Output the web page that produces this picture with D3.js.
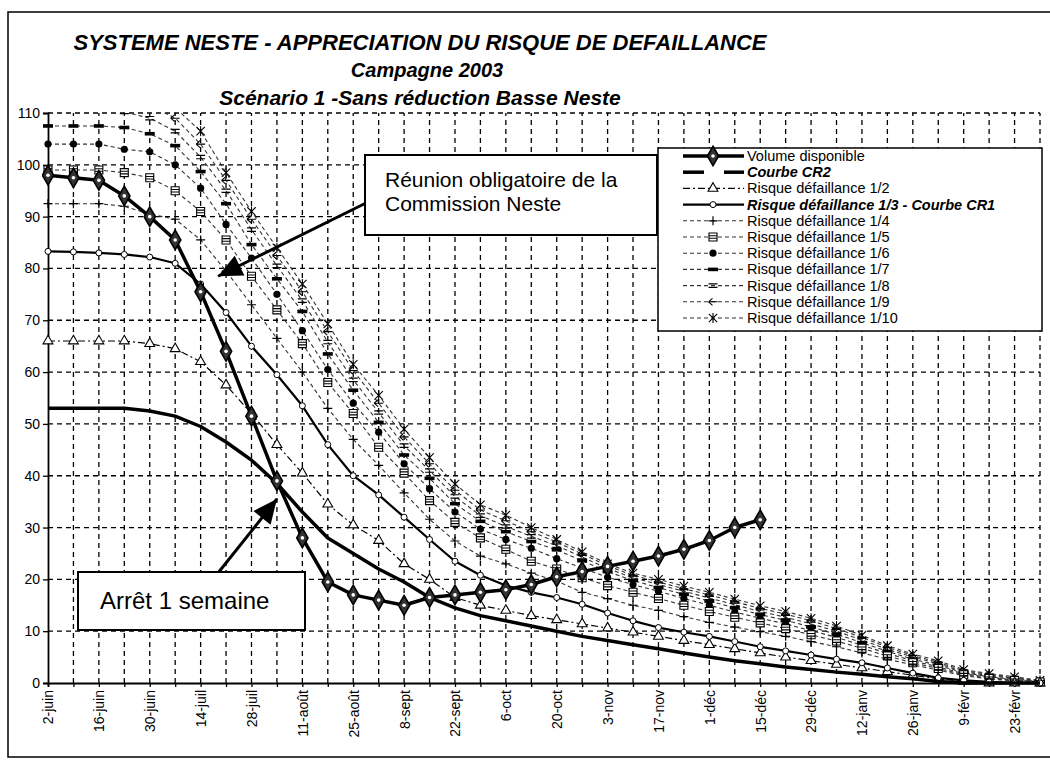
<!DOCTYPE html>
<html>
<head>
<meta charset="utf-8">
<script src="https://cdnjs.cloudflare.com/ajax/libs/d3/7.8.5/d3.min.js"></script>
<style>
  body { margin: 0; background: #fff; }
  svg { display: block; font-family: Arial, "Liberation Sans", sans-serif; }
</style>
</head>
<body>
<svg id="chart" width="1050" height="770"></svg>
<script>
// weekly categories (Excel line chart, one label every two weeks)
const weeks = ["2-juin","9-juin","16-juin","23-juin","30-juin","7-juil","14-juil","21-juil","28-juil","4-août",
  "11-août","18-août","25-août","1-sept","8-sept","15-sept","22-sept","29-sept","6-oct","13-oct",
  "20-oct","27-oct","3-nov","10-nov","17-nov","24-nov","1-déc","8-déc","15-déc","22-déc",
  "29-déc","5-janv","12-janv","19-janv","26-janv","2-févr","9-févr","16-févr","23-févr","1-mars"];
const yTicks = [0,10,20,30,40,50,60,70,80,90,100,110];

// series values
const volume = [98,97.5,97,94,90,85.5,75.5,64,51.5,39,28,19.5,17,16,15,16.5,17,17.5,18,19,
  20.5,21.5,22.5,23.5,24.5,25.8,27.5,30,31.5];
const courbeCR2 = [53,53,53,53,52.5,51.5,49.5,46.5,43,38.5,33,28,25,22,19.5,16.5,14.5,13,12,11,
  10,9,8.2,7.4,6.6,5.8,5,4.3,3.7,3.1,2.6,2.1,1.7,1.2,0.8,0.3,0,0,0,0];
const risque2 = [66,66,66,66,65.5,64.5,62,57.5,52,46,40.5,34.5,30.5,27.5,23,20,16.5,15,14,13,
  12.2,11.4,10.6,9.8,9,8.2,7.4,6.6,5.8,5,4.3,3.6,2.9,2.2,1.5,0.8,0.3,0,0,0];
const risque3 = [83.3,83.2,83,82.7,82.2,81,77,71.5,65,59.5,53.5,46,40,36.3,32,27.7,23.5,20.8,18.8,17.5,
  16.5,15.2,13.5,12,10.7,9.8,9,8,7,6.2,5.4,4.6,3.9,2.9,1.9,1,0.5,0.2,0,0];
const risque4 = [92.5,92.5,92.5,92,90.5,89.5,85.5,79.5,73,66.5,60,53,47,42,36.7,31.6,27.4,24.5,23,21.2,
  19.7,17.5,16.3,15,14,12.8,11.7,10.8,9.9,9,8,7,5.8,4.6,3.5,2.5,1.4,0.8,0.4,0.1];
const risque5 = [99,99,99,98.5,97.5,95,91,85.5,78.5,72,65.5,58,52,45.5,40.5,35.2,31,28,25.8,23.5,
  22,20.3,18.8,17.5,16.3,15,13.8,12.7,11.6,10.5,9.3,8.1,6.7,5.2,3.9,2.8,1.6,0.9,0.5,0.2];
const risque6 = [104,104,104,103,102.5,100,95.5,88.5,82,75,68,60.5,54,48.4,42.3,37.5,33,29.7,27.7,26,
  24,22.2,20.4,19,17.7,16.3,15,13.7,12.5,11.4,10.1,8.8,7.3,5.7,4.3,3.1,1.8,1.1,0.6,0.2];
const risque7 = [107.5,107.5,107.5,107.2,106,103.7,98.7,92.5,84.6,78,71.7,63.5,56.5,50.3,44,39.5,34.6,31.2,29.2,27.3,
  25.7,23.6,21.5,19.8,18.4,17.1,15.8,14.5,13.2,12.1,10.8,9.4,7.8,6.1,4.6,3.4,2,1.2,0.7,0.3];
const risque8 = [110.5,110.5,110.5,110.2,109,106.5,101.5,95,87.5,80.5,73.8,65.8,58.5,52.2,45.8,41,36,32.3,30.2,28.3,
  26.5,24.3,22.1,20.3,19,17.7,16.4,15.1,13.8,12.7,11.4,10,8.3,6.5,5,3.7,2.2,1.4,0.9,0.3];
const risque9 = [113,113,113,112.8,111.5,109,104,97,89.5,82.5,75.5,67.8,60.3,54,47.5,42.3,37.2,33.4,31.3,29.2,
  27.2,24.9,22.6,20.8,19.5,18.2,17,15.7,14.4,13.3,12,10.5,8.8,6.9,5.3,4,2.4,1.6,1,0.4];
const risque10 = [116,116,115.5,115,113.5,111,106.5,98.5,91,84,77,69.3,61.5,55.5,49,43.5,38.4,34.4,32.4,30,
  27.7,25.3,23,21.2,20,18.7,17.5,16.2,14.9,13.8,12.5,11,9.2,7.2,5.6,4.3,2.6,1.8,1.2,0.5];

const seriesNames = ["Volume disponible","Courbe CR2","Risque défaillance 1/2","Risque défaillance 1/3 - Courbe CR1",
  "Risque défaillance 1/4","Risque défaillance 1/5","Risque défaillance 1/6","Risque défaillance 1/7",
  "Risque défaillance 1/8","Risque défaillance 1/9","Risque défaillance 1/10"];

const series = [
  { name: seriesNames[0], values: volume, width: 3.5, dash: null, marker: "diamond" },
  { name: seriesNames[1], values: courbeCR2, width: 3.5, dash: null, marker: null, bold: true },
  { name: seriesNames[2], values: risque2, width: 1.2, dash: "7,3,2,3", marker: "triangle" },
  { name: seriesNames[3], values: risque3, width: 2.2, dash: null, marker: "circle", bold: true },
  { name: seriesNames[4], values: risque4, width: 1.1, dash: "4,3", marker: "plus" },
  { name: seriesNames[5], values: risque5, width: 1.1, dash: "4,3", marker: "hatch" },
  { name: seriesNames[6], values: risque6, width: 1.1, dash: "4,3", marker: "dot" },
  { name: seriesNames[7], values: risque7, width: 1.1, dash: "4,3", marker: "bar" },
  { name: seriesNames[8], values: risque8, width: 1.1, dash: "4,3", marker: "double" },
  { name: seriesNames[9], values: risque9, width: 1.1, dash: "4,3", marker: "arrow" },
  { name: seriesNames[10], values: risque10, width: 1.1, dash: "4,3", marker: "star" }
];

const svg = d3.select("#chart");
const x = d3.scalePoint().domain(weeks).range([48, 1040]);
const y = d3.scaleLinear().domain([0, 110]).range([683, 113]);

// outer frame
svg.append("rect").attr("x", 8).attr("y", 12).attr("width", 1050).attr("height", 745)
  .attr("fill", "none").attr("stroke", "#000").attr("stroke-width", 1.5);

// titles
const titles = [
  { t: "SYSTEME NESTE - APPRECIATION DU RISQUE DE DEFAILLANCE", x: 420, y: 50, size: 22 },
  { t: "Campagne 2003", x: 427, y: 77, size: 20 },
  { t: "Scénario 1 -Sans réduction Basse Neste", x: 420, y: 105, size: 21 }
];
svg.selectAll(".title").data(titles).enter().append("text")
  .attr("x", d => d.x).attr("y", d => d.y)
  .attr("text-anchor", "middle").attr("font-size", d => d.size)
  .attr("font-weight", "bold").attr("font-style", "italic")
  .text(d => d.t);

// grid
const grid = svg.append("g").attr("stroke", "#000").attr("stroke-width", 1.3).attr("stroke-dasharray", "5,4");
grid.selectAll(".hg").data(yTicks.filter(v => v > 0)).enter().append("line")
  .attr("x1", x.range()[0]).attr("x2", x.range()[1])
  .attr("y1", d => y(d)).attr("y2", d => y(d));
grid.selectAll(".vg").data(weeks.slice(1)).enter().append("line")
  .attr("x1", d => x(d)).attr("x2", d => x(d))
  .attr("y1", y(0)).attr("y2", y(110));

// axes
const yAxis = svg.append("g").attr("transform", `translate(${x.range()[0]},0)`)
  .call(d3.axisLeft(y).tickValues(yTicks).tickSize(5).tickPadding(3));
const xAxis = svg.append("g").attr("transform", `translate(0,${y(0)})`)
  .call(d3.axisBottom(x).tickSize(4).tickFormat((d, i) => i % 2 === 0 ? d : ""));
[yAxis, xAxis].forEach(a => {
  a.select(".domain").attr("stroke", "#000").attr("stroke-width", 1.8);
  a.selectAll(".tick line").attr("stroke", "#000").attr("stroke-width", 1.3);
  a.selectAll("text").attr("font-size", 14).attr("fill", "#000")
    .attr("font-family", "Arial, 'Liberation Sans', sans-serif");
});
xAxis.selectAll("text")
  .attr("transform", "rotate(-90)")
  .attr("text-anchor", "end")
  .attr("x", -7).attr("y", 0).attr("dy", "0.35em");

// clip to plot area (values above 110 are cut like in Excel)
svg.append("clipPath").attr("id", "plotClip").append("rect")
  .attr("x", x.range()[0] - 6).attr("y", y(110)).attr("width", x.range()[1] - x.range()[0] + 14)
  .attr("height", y(0) - y(110) + 6);

function drawMarker(g, type, cx, cy) {
  const m = g.append("g").attr("transform", `translate(${cx},${cy})`);
  switch (type) {
    case "diamond":
      m.append("path").attr("d", d3.symbol(d3.symbolDiamond, 110)())
        .attr("fill", "#333").attr("stroke", "#000").attr("stroke-width", 1.6);
      m.append("circle").attr("r", 1.8).attr("fill", "#fff");
      break;
    case "triangle":
      m.append("path").attr("d", d3.symbol(d3.symbolTriangle, 42)())
        .attr("fill", "#fff").attr("stroke", "#000").attr("stroke-width", 1.1);
      break;
    case "circle":
      m.append("circle").attr("r", 3).attr("fill", "#fff").attr("stroke", "#000").attr("stroke-width", 1);
      break;
    case "plus":
      m.append("path").attr("d", "M-4.5,0H4.5M0,-4.5V4.5").attr("stroke", "#000").attr("stroke-width", 1.2);
      break;
    case "hatch":
      m.append("path").attr("d", "M-4,-4H4V4H-4Z M-4,-1.3H4 M-4,1.3H4")
        .attr("fill", "#fff").attr("stroke", "#000").attr("stroke-width", 1.1);
      break;
    case "dot":
      m.append("circle").attr("r", 3.6).attr("fill", "#000");
      break;
    case "bar":
      m.append("rect").attr("x", -5).attr("y", -1.8).attr("width", 10).attr("height", 3.6).attr("fill", "#000");
      break;
    case "double":
      m.append("path").attr("d", "M-4.5,-1.7H4.5M-4.5,1.7H4.5").attr("stroke", "#000").attr("stroke-width", 1.2);
      break;
    case "arrow":
      m.append("path").attr("d", "M-4.5,0L-0.5,-3.5M-4.5,0L-0.5,3.5M-4.5,0H4.5")
        .attr("fill", "none").attr("stroke", "#000").attr("stroke-width", 1.1);
      break;
    case "star":
      m.append("path").attr("d", "M0,-5V5M-4.2,-4.2L4.2,4.2M-4.2,4.2L4.2,-4.2")
        .attr("stroke", "#000").attr("stroke-width", 1.1);
      break;
  }
}

// series: thin risk curves first, volume on top
const plot = svg.append("g").attr("clip-path", "url(#plotClip)");
const line = d3.line().x((d, i) => x(weeks[i])).y(d => y(d));
const drawOrder = [10, 9, 8, 7, 6, 5, 4, 2, 3, 1, 0];
drawOrder.forEach(k => {
  const s = series[k];
  plot.append("path").datum(s.values)
    .attr("d", line)
    .attr("fill", "none")
    .attr("stroke", k >= 4 ? "#333" : "#000")
    .attr("stroke-width", s.width)
    .attr("stroke-linejoin", "round")
    .attr("stroke-dasharray", s.dash);
  if (s.marker) {
    s.values.forEach((v, i) => drawMarker(plot, s.marker, x(weeks[i]), y(v)));
  }
});

// annotations
function callout(lines, box, target, fontSize, lineGap) {
  const g = svg.append("g");
  const tx = x(target.week) + target.dx, ty = y(target.value);
  const sx = box.ax, sy = box.ay;
  g.append("line").attr("x1", sx).attr("y1", sy).attr("x2", tx).attr("y2", ty)
    .attr("stroke", "#000").attr("stroke-width", 3);
  const ang = Math.atan2(ty - sy, tx - sx);
  const L = 24, W = 11;
  const bx = tx - L * Math.cos(ang), by = ty - L * Math.sin(ang);
  g.append("path")
    .attr("d", `M${tx},${ty}L${bx + W * Math.sin(ang)},${by - W * Math.cos(ang)}L${bx - W * Math.sin(ang)},${by + W * Math.cos(ang)}Z`)
    .attr("fill", "#000");
  g.append("rect").attr("x", box.x).attr("y", box.y).attr("width", box.w).attr("height", box.h)
    .attr("fill", "#fff").attr("stroke", "#000").attr("stroke-width", 2);
  lines.forEach((t, i) => {
    g.append("text").attr("x", box.x + box.pad).attr("y", box.y + box.ty + i * lineGap)
      .attr("font-size", fontSize).text(t);
  });
}
callout(["Réunion obligatoire de la", "Commission Neste"],
  { x: 365, y: 155, w: 292, h: 80, pad: 20, ty: 32, ax: 366, ay: 203 },
  { week: "21-juil", dx: -8, value: 78.5 }, 21, 24);
callout(["Arrêt 1 semaine"],
  { x: 78, y: 572, w: 227, h: 58, pad: 22, ty: 37, ax: 218, ay: 573 },
  { week: "4-août", dx: 0, value: 35.5 }, 24, 0);

// legend
const lg = svg.append("g").attr("transform", "translate(658,148)");
lg.append("rect").attr("width", 384).attr("height", 183)
  .attr("fill", "#fff").attr("stroke", "#000").attr("stroke-width", 1.5);
series.forEach((s, i) => {
  const ly = 8 + i * 16.2;
  const row = lg.append("g");
  if (s.marker) {
    row.append("line").attr("x1", 25).attr("x2", 86).attr("y1", ly).attr("y2", ly)
      .attr("stroke", i >= 4 ? "#333" : "#000").attr("stroke-width", s.width).attr("stroke-dasharray", s.dash);
    drawMarker(row, s.marker, 55, ly);
  } else {
    row.append("line").attr("x1", 25).attr("x2", 46).attr("y1", ly).attr("y2", ly)
      .attr("stroke", "#000").attr("stroke-width", s.width);
    row.append("line").attr("x1", 66).attr("x2", 86).attr("y1", ly).attr("y2", ly)
      .attr("stroke", "#000").attr("stroke-width", s.width);
  }
  row.append("text").attr("x", 89).attr("y", ly).attr("dy", "0.35em")
    .attr("font-size", 14.5)
    .attr("font-weight", s.bold ? "bold" : "normal")
    .attr("font-style", s.bold ? "italic" : "normal")
    .text(s.name);
});
</script>
</body>
</html>
